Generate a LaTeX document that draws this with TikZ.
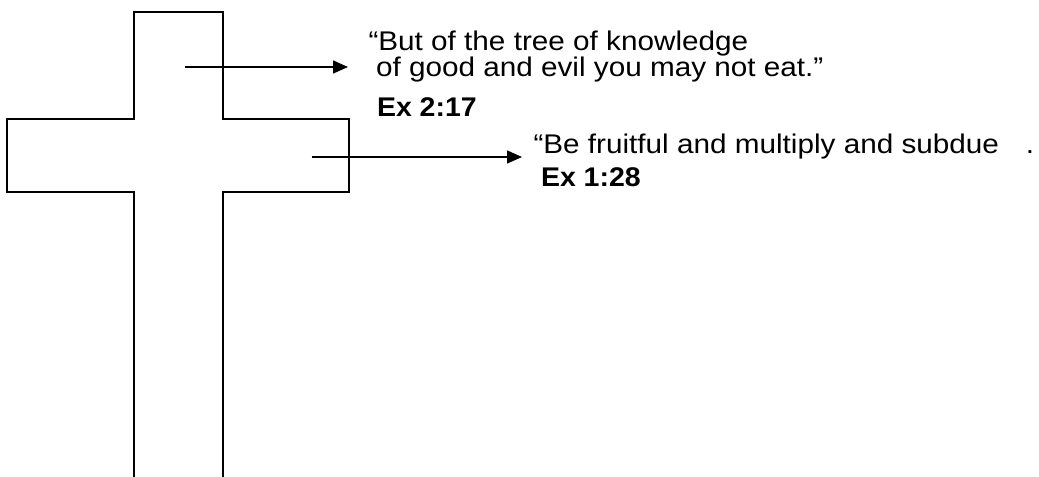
\documentclass[tikz,border=0pt]{standalone}
\usepackage{fontspec}
\setmainfont{Liberation Sans}
\usetikzlibrary{arrows.meta}
\begin{document}
\begin{tikzpicture}[x=1bp,y=-1bp,
  crossline/.style={line width=2bp,line join=miter},
  pointer/.style={line width=1.5bp,-{Triangle[length=15bp,width=13bp]}},
  quote/.style={anchor=base west,inner sep=0pt,outer sep=0pt,xscale=1.1,transform shape,
    font=\fontsize{27bp}{30bp}\selectfont},
  ref/.style={anchor=base west,inner sep=0pt,outer sep=0pt,xscale=1.055,transform shape,
    font=\fontsize{27bp}{30bp}\selectfont\bfseries}]
\useasboundingbox (0,0) rectangle (1039,477);
% cross outline (open at the bottom)
\draw[crossline] (133.5,478) -- (133.5,192) -- (7,192) -- (7,119.5) -- (133.5,119.5)
  -- (133.5,12) -- (222.5,12) -- (222.5,119.5) -- (349,119.5) -- (349,192)
  -- (222.5,192) -- (222.5,478);
% texts
\node[quote] (t1a) at (368.5,51) {“But of the tree of knowledge};
\node[quote] (t1b) at (376,77) {of good and evil you may not eat.”};
\node[ref] (t1c) at (377,117) {Ex 2:17};
\node[quote] (t2a) at (533.5,153.5) {“Be fruitful and multiply and subdue\hspace{24.5bp}.};
\node[ref] (t2b) at (541,187) {Ex 1:28};
% arrows
\coordinate (a1s) at (185,67);
\coordinate (a1e) at (348,67);
\coordinate (a2s) at (311.5,157);
\coordinate (a2e) at (522,157);
\draw[pointer] (a1s) -- (a1e);
\draw[pointer] (a2s) -- (a2e);
\end{tikzpicture}
\end{document}
